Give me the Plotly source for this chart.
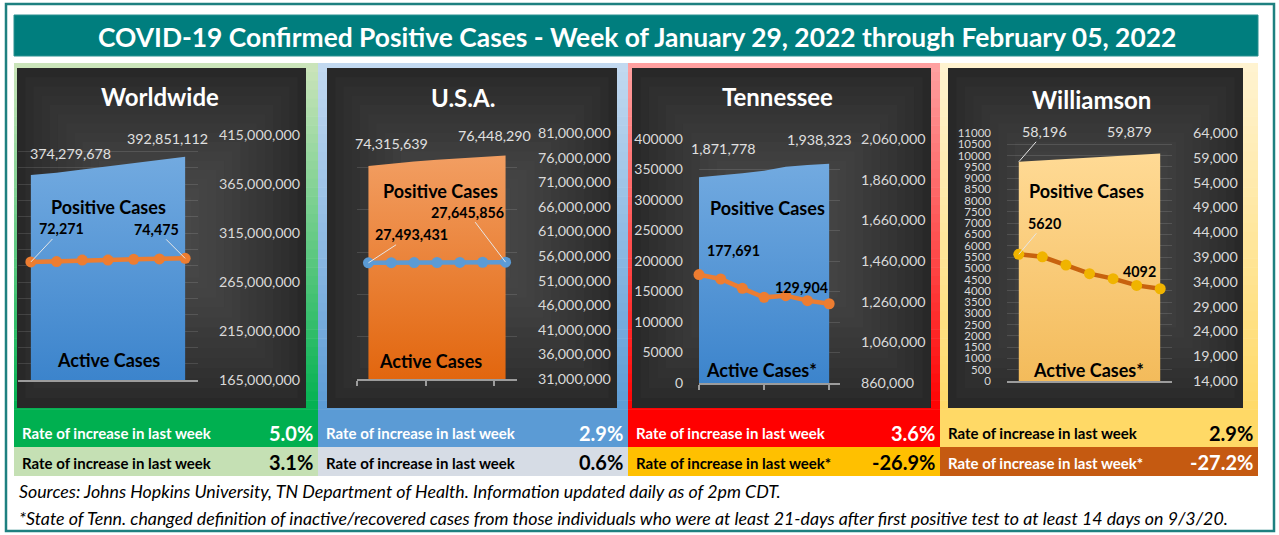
import plotly.graph_objects as go

W, H = 1279, 535
FONT = "Lato"

# ---------------- data ----------------
days = ["Jan 30", "Jan 31", "Feb 01", "Feb 02", "Feb 03", "Feb 04", "Feb 05"]
regions = ["Worldwide", "U.S.A.", "Tennessee", "Williamson"]

positive_world = [374279678, 376600000, 379900000, 383100000, 386200000, 389500000, 392851112]
active_world = [72271, 72500, 73400, 73450, 73900, 74100, 74475]

positive_usa = [74315639, 74800000, 75200000, 75550000, 75850000, 76150000, 76448290]
active_usa = [27493431, 27512000, 27538000, 27561000, 27589000, 27618000, 27645856]

positive_tn = [1871778, 1880000, 1891000, 1904000, 1924000, 1932000, 1938323]
active_tn = [177691, 170500, 155200, 140400, 143200, 135000, 129904]

positive_wm = [58196, 58470, 58750, 59030, 59330, 59610, 59879]
active_wm = [5620, 5510, 5140, 4760, 4540, 4240, 4092]

# weekly rates of increase as printed (%)
rate_positive = [5.0, 2.9, 3.6, 2.9]
rate_active = [3.1, 0.6, -26.9, -27.2]

title_text = "COVID-19 Confirmed Positive Cases - Week of January 29, 2022 through February 05, 2022"
rate_label = "Rate of increase in last week"
footer_1 = "Sources: Johns Hopkins University, TN Department of Health. Information updated daily as of 2pm CDT."
footer_2 = ("*State of Tenn. changed definition of inactive/recovered cases from those individuals who were "
            "at least 21-days after first positive test to at least 14 days on 9/3/20.")

# ---------------- panel styling ----------------
panels = [
    dict(name=regions[0], pos=positive_world, act=active_world, note="",
         px=(18, 198), py=(135, 380), xr=[-0.5, 6.5],
         rr=[165e6, 415e6], rd=50e6, lr=[0, 150000], ld=10000, show_left=False, lfs=14,
         bg=((202, 228, 186), (0, 176, 80)), panel=(14, 318), dark=(17, 68, 306, 408),
         area=("#3C84CC", "#72AAE0"), line="#ED7D31", marker="#ED7D31",
         xticks=None, act_fmt="{:,}",
         labels=[("pos", 0, 40, -21, False), ("pos", 6, -18, -18, False),
                 ("act", 0, 31, -33, True), ("act", 6, -29, -29, True)],
         pc=(108, 207), ac=(108, 360), tt=(160, 97),
         row1=("#00B050", "white"), row2=("#C5E0B4", "black")),
    dict(name=regions[1], pos=positive_usa, act=active_usa, note="",
         px=(357, 517), py=(133, 379), xr=[-0.5, 6.5],
         rr=[31e6, 81e6], rd=5e6, lr=[0, 58.2e6], ld=10e6, show_left=False, lfs=14,
         bg=((194, 217, 240), (91, 155, 213)), panel=(318, 628), dark=(327, 68, 617, 408),
         area=("#E2660E", "#F29E62"), line="#5B9BD5", marker="#5B9BD5",
         xticks=[-0.5, 2.5, 5.5], act_fmt="{:,}",
         labels=[("pos", 0, 23, -22, False), ("pos", 6, -11, -20, False),
                 ("act", 0, 43, -28, True), ("act", 6, -38, -50, True)],
         pc=(440, 191), ac=(430, 361), tt=(463, 98),
         row1=("#5B9BD5", "white"), row2=("#D6DCE5", "black")),
    dict(name=regions[2], pos=positive_tn, act=active_tn, note="*",
         px=(699, 840), py=(139, 383), xr=[0, 6.5],
         rr=[860000, 2060000], rd=200000, lr=[0, 400000], ld=50000, show_left=True, lfs=14,
         bg=((255, 160, 160), (255, 0, 0)), panel=(628, 940), dark=(632, 68, 931, 408),
         area=("#3C84CC", "#72AAE0"), line="#ED7D31", marker="#ED7D31",
         xticks=[0, 3, 6], act_fmt="{:,}",
         labels=[("pos", 0, 24, -29, False), ("pos", 6, -10, -24, False),
                 ("act", 0, 34, -24, False), ("act", 6, -28, -16, False)],
         pc=(767, 208), ac=(761, 370), tt=(777, 97),
         row1=("#FF0000", "white"), row2=("#FFC000", "black")),
    dict(name=regions[3], pos=positive_wm, act=active_wm, note="*",
         px=(1007, 1172), py=(133, 381), xr=[-0.5, 6.5],
         rr=[14000, 64000], rd=5000, lr=[0, 11000], ld=500, show_left=True, lfs=11.5,
         bg=((255, 243, 208), (255, 217, 102)), panel=(940, 1258), dark=(948, 68, 1243, 408),
         area=("#F3BB5B", "#FFDA95"), line="#C8620E", marker="#F0B400",
         xticks=None, act_fmt="{}",
         labels=[("pos", 0, 26, -30, True), ("pos", 6, -31, -22, False),
                 ("act", 0, 26, -31, True), ("act", 6, -21, -17, False)],
         pc=(1086, 191), ac=(1088, 370), tt=(1091, 99),
         row1=("#FFD966", "black"), row2=("#C55A11", "white")),
]


def fx(x):
    return x / W


def fy(y):
    return 1 - y / H


def mix(c0, c1, t):
    return "rgb({},{},{})".format(*[round(a + (b - a) * t) for a, b in zip(c0, c1)])


def text(x, y, s, size, color, xanchor="center", style=None):
    if style == "b":
        s = "<b>" + s + "</b>"
    elif style == "i":
        s = "<i>" + s + "</i>"
    return dict(xref="paper", yref="paper", x=fx(x), y=fy(y), text=s, showarrow=False,
                xanchor=xanchor, yanchor="middle", font=dict(family=FONT, size=size, color=color))


shapes = []
annotations = []

# outer border + banner
shapes.append(dict(type="rect", xref="paper", yref="paper", x0=fx(6), x1=fx(1274), y0=fy(531), y1=fy(4),
                   line=dict(color="#1E8080", width=2.5), fillcolor="white", layer="below"))
shapes.append(dict(type="rect", xref="paper", yref="paper", x0=fx(14), x1=fx(1258), y0=fy(56), y1=fy(15),
                   line=dict(color="#2A9090", width=1), fillcolor="#007E7E", layer="below"))
annotations.append(text(637, 37, title_text, 26.4, "white", style="b"))

layout_axes = {}
traces = []
ROW1 = (418, 447)
ROW2 = (447, 476)

for p, c in enumerate(panels):
    # panel gradient background
    px0, px1 = c["panel"]
    n = 40
    top, bot = 63, 418
    for k in range(n):
        y0 = top + (bot - top) * k / n
        y1 = top + (bot - top) * (k + 1) / n + 0.6
        shapes.append(dict(type="rect", xref="paper", yref="paper", x0=fx(px0), x1=fx(px1),
                           y0=fy(y1), y1=fy(y0), line=dict(width=0),
                           fillcolor=mix(c["bg"][0], c["bg"][1], k / (n - 1)), layer="below"))
    # dark chart background (stepped radial-ish gradient)
    dx0, dy0, dx1, dy1 = c["dark"]
    cx, cy = (dx0 + dx1) / 2, dy0 + (dy1 - dy0) * 0.48
    m = 16
    for k in range(m):
        t = k / (m - 1)
        s = 1 - 0.85 * t
        shapes.append(dict(type="rect", xref="paper", yref="paper",
                           x0=fx(cx - (cx - dx0) * s), x1=fx(cx + (dx1 - cx) * s),
                           y0=fy(cy + (dy1 - cy) * s), y1=fy(cy - (cy - dy0) * s),
                           line=dict(width=0), fillcolor=mix((40, 40, 40), (74, 74, 74), t ** 0.8),
                           layer="below"))
    # rate rows
    for (ya, yb2), (fill, tc), txt, val in [
        (ROW1, c["row1"], rate_label, rate_positive[p]),
        (ROW2, c["row2"], rate_label + c["note"], rate_active[p]),
    ]:
        shapes.append(dict(type="rect", xref="paper", yref="paper", x0=fx(px0), x1=fx(px1),
                           y0=fy(yb2), y1=fy(ya), line=dict(width=0), fillcolor=fill, layer="below"))
        annotations.append(text(px0 + 6, (ya + yb2) / 2 + 1, txt, 15, tc, xanchor="left", style="b"))
        annotations.append(text(px1 - 3, (ya + yb2) / 2, "{:.1f}%".format(val), 20, tc,
                                xanchor="right", style="b"))

    # axes ids
    xa = "x" if p == 0 else f"x{p + 1}"
    yb = "y" if p == 0 else f"y{2 * p + 1}"
    yo = f"y{2 * p + 2}"
    xkey = "xaxis" if p == 0 else f"xaxis{p + 1}"
    ybkey = "yaxis" if p == 0 else f"yaxis{2 * p + 1}"
    yokey = f"yaxis{2 * p + 2}"

    x0, x1 = c["px"]
    y0, y1 = c["py"]
    xdict = dict(domain=[fx(x0), fx(x1)], anchor=yb, range=c["xr"], type="category",
                 showgrid=False, zeroline=False, showline=True, linecolor="#9C9C9C", linewidth=1.5,
                 showticklabels=False, fixedrange=True, automargin=False)
    if c["xticks"] is not None:
        xdict.update(tickmode="array", tickvals=c["xticks"], ticks="outside", ticklen=5,
                     tickcolor="#9C9C9C", tickwidth=1.5)
    else:
        xdict.update(ticks="")
    layout_axes[xkey] = xdict
    layout_axes[ybkey] = dict(domain=[fy(y1), fy(y0)], anchor=xa, side="right", range=c["rr"],
                              tick0=c["rr"][0], dtick=c["rd"], tickformat=",d", showgrid=False,
                              zeroline=False, showline=False, ticks="", automargin=False,
                              tickfont=dict(family=FONT, size=14.3, color="#D9D9D9"),
                              ticklabelstandoff=20, fixedrange=True)
    layout_axes[yokey] = dict(overlaying=yb, anchor=xa, side="left", range=c["lr"], tick0=0,
                              dtick=c["ld"], tickformat="d", showgrid=True,
                              gridcolor="rgba(255,255,255,0.12)", gridwidth=1, zeroline=False,
                              showline=False, ticks="", showticklabels=c["show_left"], automargin=False,
                              tickfont=dict(family=FONT, size=c["lfs"], color="#D9D9D9"),
                              ticklabelstandoff=15, fixedrange=True)

    traces.append(go.Scatter(x=days, y=c["pos"], xaxis=xa, yaxis=yb, mode="lines",
                             line=dict(width=0), fill="tozeroy",
                             fillgradient=dict(type="vertical", start=c["rr"][0], stop=max(c["pos"]),
                                               colorscale=[[0, c["area"][0]], [1, c["area"][1]]]),
                             hoverinfo="skip", showlegend=False))
    traces.append(go.Scatter(x=days, y=c["act"], xaxis=xa, yaxis=yo, mode="lines+markers",
                             line=dict(color=c["line"], width=4.5),
                             marker=dict(size=11, color=c["marker"]), cliponaxis=False,
                             hoverinfo="skip", showlegend=False))

    # data labels
    for series, idx, dx, dy, leader in c["labels"]:
        if series == "pos":
            val, yref = c["pos"][idx], yb
            txt = "{:,}".format(val)
            font = dict(family=FONT, size=14.3, color="#E0E0E0")
        else:
            val, yref = c["act"][idx], yo
            txt = "<b>" + c["act_fmt"].format(val) + "</b>"
            font = dict(family=FONT, size=14.3, color="black")
        if leader:
            annotations.append(dict(xref=xa, yref=yref, x=days[idx], y=val, text=txt, font=font,
                                    showarrow=True, ax=dx, ay=dy, arrowhead=0, arrowwidth=1,
                                    arrowcolor="#E6E6E6", standoff=0))
        else:
            annotations.append(dict(xref=xa, yref=yref, x=days[idx], y=val, text=txt, font=font,
                                    showarrow=False, xanchor="center", yanchor="middle",
                                    xshift=dx, yshift=-dy))

    # in-chart texts
    annotations.append(text(c["tt"][0], c["tt"][1], c["name"], 24, "white", style="b"))
    annotations.append(text(c["pc"][0], c["pc"][1], "Positive Cases", 18, "black", style="b"))
    annotations.append(text(c["ac"][0], c["ac"][1], "Active Cases" + c["note"], 18, "black", style="b"))

annotations.append(text(17, 491, footer_1, 17.8, "black", xanchor="left", style="i"))
annotations.append(text(17, 518, footer_2, 17.8, "black", xanchor="left", style="i"))

fig = go.Figure(data=traces)
fig.update_layout(width=W, height=H, margin=dict(l=0, r=0, t=0, b=0, autoexpand=False),
                  paper_bgcolor="white", plot_bgcolor="rgba(0,0,0,0)",
                  shapes=shapes, annotations=annotations, hovermode=False,
                  font=dict(family=FONT), **layout_axes)
fig.write_html("out.html", config={"displayModeBar": False},
               post_script="document.body.style.margin='0';document.body.style.overflow='hidden';")
